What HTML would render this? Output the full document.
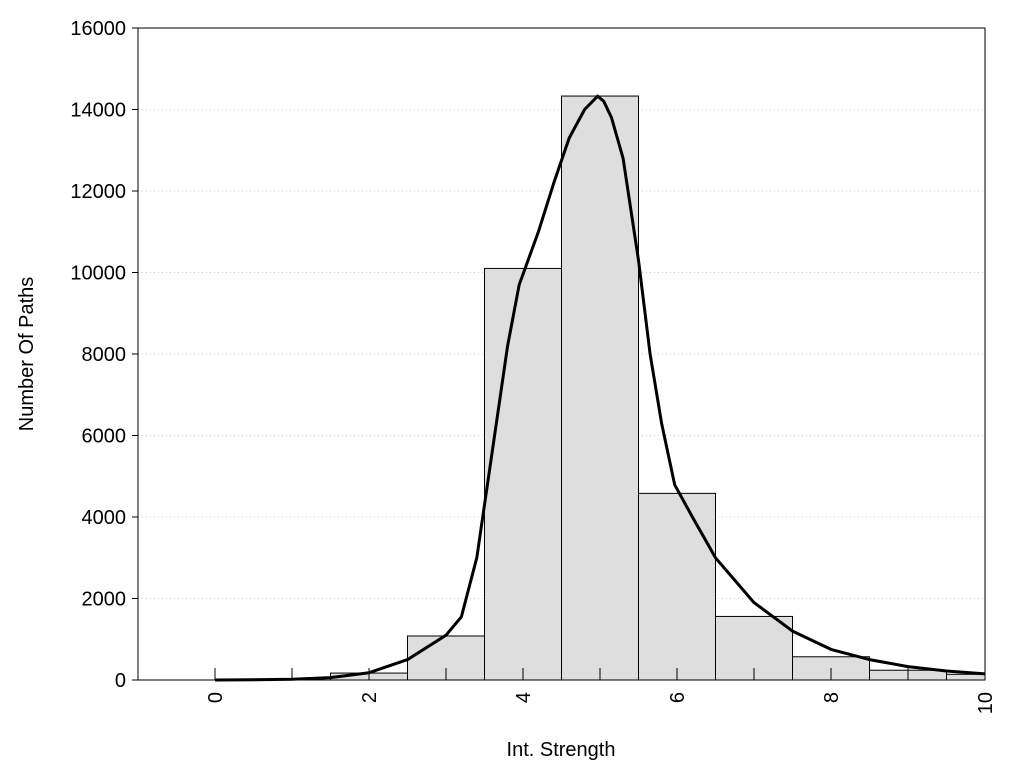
<!DOCTYPE html>
<html><head><meta charset="utf-8"><style>body{margin:0;background:#fff}svg{display:block;font-family:"Liberation Sans",sans-serif}</style></head>
<body>
<svg id="c" width="1024" height="768"></svg>
<script>
const binCenters=[2,3,4,5,6,7,8,9,10];
const binCounts=[170,1080,10100,14330,4580,1560,570,240,140];
const curveX=[0,0.5,1,1.5,2,2.5,3,3.2,3.4,3.6,3.8,3.95,4.2,4.4,4.6,4.8,4.97,5.05,5.15,5.3,5.5,5.65,5.8,5.97,6.2,6.5,7,7.5,8,8.5,9,9.5,10];
const curveY=[0,5,20,60,180,500,1100,1550,3000,5600,8200,9700,11000,12200,13300,14000,14330,14200,13800,12800,10300,8000,6300,4790,4000,3000,1900,1200,750,500,330,220,150];
const yTicks=[0,2000,4000,6000,8000,10000,12000,14000,16000];
const xTicks=[0,2,4,6,8,10];
const ns="http://www.w3.org/2000/svg",svg=document.getElementById('c');
const L=138,R=985,T=28,B=680;
const xs=v=>L+(v+1)/11*(R-L), ys=v=>B-v/16000*(B-T);
function el(t,a,p){const e=document.createElementNS(ns,t);for(const k in a)e.setAttribute(k,a[k]);(p||svg).appendChild(e);return e;}
yTicks.forEach(v=>{
 if(v>0&&v<16000){const g=el('line',{x1:L,x2:R,y1:ys(v),y2:ys(v),stroke:'#ccc','stroke-dasharray':'1,3'});
 
 }
 const tk=el('line',{x1:L-6,x2:L,y1:ys(v),y2:ys(v),stroke:'#000'});
 
 
 const t=el('text',{x:126,y:ys(v)+7,'text-anchor':'end','font-size':20});t.textContent=v;
 
 
});
binCenters.forEach((c,i)=>{
 const x0=xs(c-0.5),x1=Math.min(xs(c+0.5),R);
 const r=el('rect',{x:x0,y:ys(binCounts[i]),width:x1-x0,height:B-ys(binCounts[i]),fill:'#dedede',stroke:'#000','stroke-width':1});
 
 
});
for(let v=0;v<=10;v++){
 const tk=el('line',{x1:xs(v),x2:xs(v),y1:B,y2:B-12,stroke:'#000'});
 
 
}
xTicks.forEach(v=>{
 const t=el('text',{transform:`translate(${xs(v)+7},${B+12}) rotate(-90)`,'text-anchor':'end','font-size':20});t.textContent=v;
 
 
});
const p=el('path',{d:curveX.map((x,i)=>(i?'L':'M')+xs(x).toFixed(1)+','+ys(curveY[i]).toFixed(1)).join(''),fill:'none',stroke:'#000','stroke-width':3,'stroke-linejoin':'round'});


const f=el('rect',{x:L,y:T,width:R-L,height:B-T,fill:'none',stroke:'#000'});


const xt=el('text',{x:561,y:756,'text-anchor':'middle','font-size':20});xt.textContent='Int. Strength';


const yt=el('text',{transform:'translate(33,354) rotate(-90)','text-anchor':'middle','font-size':20});yt.textContent='Number Of Paths';


</script>
</body></html>
